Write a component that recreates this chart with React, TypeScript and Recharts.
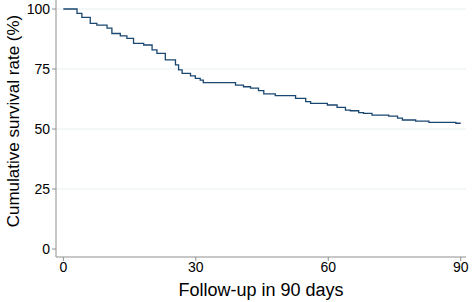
import { CartesianGrid, Label, Line, LineChart, XAxis, YAxis } from 'recharts';

// follow-up day at which the survival estimate changes, and the new estimate (%)
const days = [
  0, 3.1, 4.2, 6.1, 7.6, 9.9, 11, 12.9, 14.4, 15.9, 18.2, 20.1, 21.2, 23.1, 25.4, 26.1, 26.9,
  28.8, 29.9, 31, 31.7, 39, 40.8, 42.4, 44.2, 45.4, 48, 52.6, 54.9, 56, 59.8, 62, 63.9, 65,
  66.9, 68, 69.9, 73.7, 75.7, 76.8, 79.8, 82.8, 88.9, 90,
];
const survival = [
  100, 98.2, 96.5, 94, 93.3, 92, 89.8, 88.8, 87.8, 85.7, 85, 83, 81.5, 78.8, 76.7, 74.6, 73.2,
  72.1, 71.1, 70.4, 69.3, 68.3, 67.6, 67, 66, 64.6, 63.9, 62.8, 61.4, 60.7, 60, 59, 57.9, 57.6,
  56.8, 56.5, 55.8, 55.4, 54.5, 53.75, 53.3, 52.8, 52.4, 52.4,
];
const xTicks = [0, 30, 60, 90];
const yTicks = [0, 25, 50, 75, 100];
const gridValues = [25, 50, 75, 100];

const FONT = '"Liberation Sans", Arial, sans-serif';
const AXIS = '#8f8f8f';

export default function App() {
  const data = days.map((d, i) => ({ day: d, survival: survival[i] }));

  return (
    <div style={{ position: 'absolute', left: 0, top: 0, width: 472, height: 302, background: '#fff', fontFamily: FONT }}>
      <LineChart width={472} height={302} data={data} margin={{ top: 0, right: 6, left: 0, bottom: 0 }}>
        <CartesianGrid stroke="#e6eff1" vertical={false} horizontalValues={gridValues} />
        <XAxis
          dataKey="day"
          type="number"
          domain={[-1.66, 91.2]}
          ticks={xTicks}
          allowDataOverflow
          height={45}
          stroke={AXIS}
          tickSize={4}
          tickMargin={1}
          tick={{ fontSize: 14, fill: '#000', fontFamily: FONT }}
        >
          <Label
            content={({ viewBox }: any) => (
              <text x={viewBox.x + viewBox.width / 2} y={viewBox.y + 39} textAnchor="middle" fontSize={18} fontFamily={FONT} fill="#000">
                Follow-up in 90 days
              </text>
            )}
          />
        </XAxis>
        <YAxis
          type="number"
          domain={[-3.33, 103.75]}
          ticks={yTicks}
          allowDataOverflow
          width={56}
          stroke={AXIS}
          tickSize={4}
          tickMargin={2}
          tick={{ fontSize: 14, fill: '#000', fontFamily: FONT }}
        >
          <Label
            content={() => (
              <text x={19} y={121} transform="rotate(-90 19 121)" textAnchor="middle" fontSize={17} fontFamily={FONT} fill="#000">
                Cumulative survival rate (%)
              </text>
            )}
          />
        </YAxis>
        <Line
          type="stepAfter"
          dataKey="survival"
          stroke="#1a476f"
          strokeWidth={1.3}
          dot={false}
          isAnimationActive={false}
        />
      </LineChart>
    </div>
  );
}
